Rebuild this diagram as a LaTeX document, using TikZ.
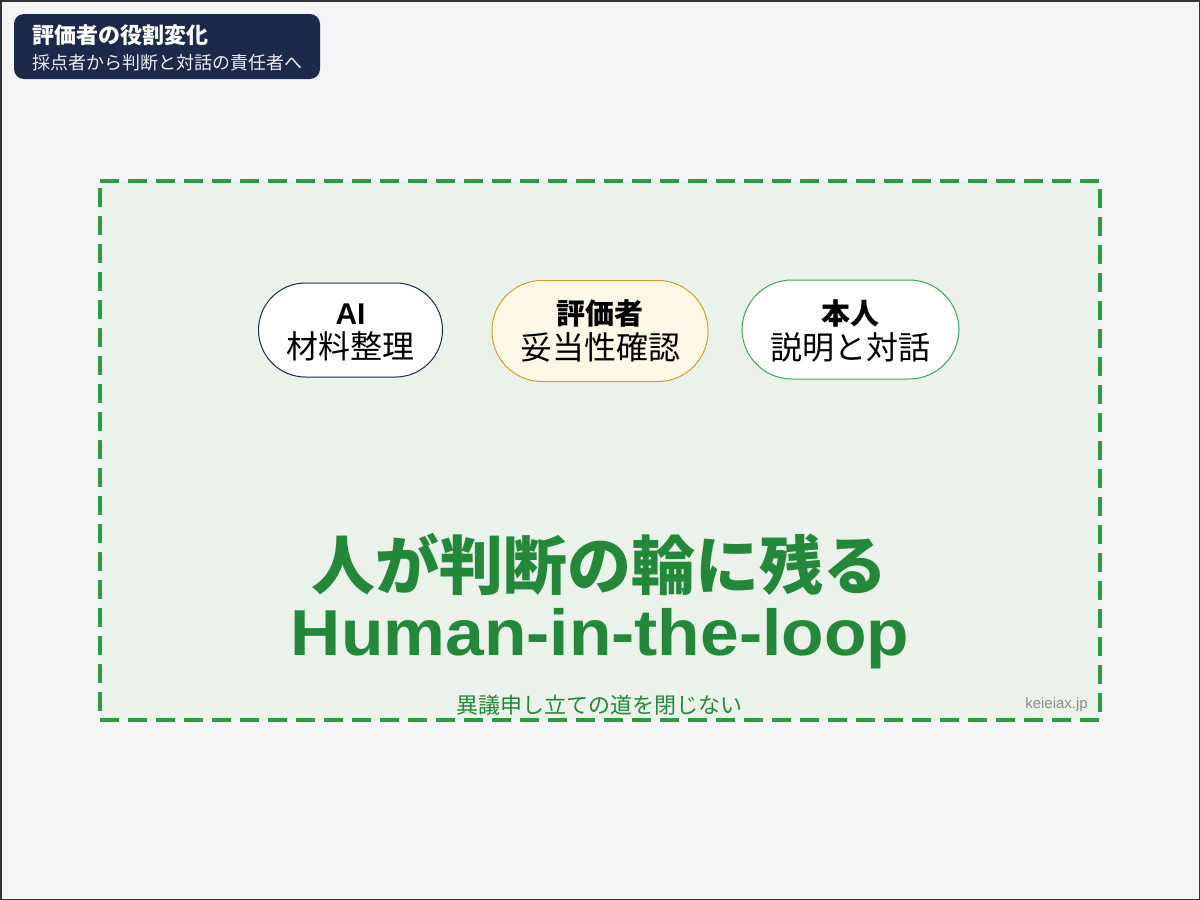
\documentclass[tikz,border=0pt]{standalone}
\usepackage{fontspec}
\setmainfont{Liberation Sans}
\newfontfamily\jp{Noto Sans CJK JP}
\definecolor{bgc}{HTML}{F5F5F5}
\definecolor{navy}{HTML}{1B2A4A}
\definecolor{dgreen}{HTML}{2A9A45}
\definecolor{tgreen}{HTML}{23883A}
\definecolor{lgreen}{HTML}{EAF2EA}
\definecolor{cream}{HTML}{FDF8E6}
\definecolor{gold}{HTML}{C9A22E}
\definecolor{pgreen}{HTML}{3AA655}
\tikzset{
  pill/.style={draw, line width=1pt, rounded corners=#1, inner sep=0pt},
  lbl/.style={anchor=base, inner sep=0pt, text=black},
}
\begin{document}
\begin{tikzpicture}[x=1pt,y=-1pt]
\useasboundingbox (0,0) rectangle (1200,900);
\fill[bgc] (0,0) rectangle (1200,900);
\draw[black!80, line width=1.5pt] (0.75,0.75) rectangle (1199.25,899.25);
% title
\node[fill=navy, rounded corners=10pt, minimum width=306pt, minimum height=65pt, inner sep=0pt] (title) at (167,46.5) {};
\node[anchor=base west, inner sep=0pt, text=white, font=\jp\bfseries\fontsize{22}{24}\selectfont] (t1) at (32,43) {評価者の役割変化};
\node[anchor=base west, inner sep=0pt, text=white!92!navy, font=\jp\fontsize{18}{20}\selectfont] (t2) at (32,69) {採点者から判断と対話の責任者へ};
% dashed frame
\fill[lgreen] (100,181) rectangle (1100,720);
\draw[dgreen, line width=3.5pt, dash pattern=on 19pt off 9pt, line cap=butt]
  (100,181) -- (1100,181) -- (1100,720) -- (100,720) -- cycle;
% pills
\node[pill=47pt, draw=navy, fill=white, minimum width=184pt, minimum height=94pt] (ai) at (350.5,330) {};
\node[pill=50pt, draw=gold, fill=cream, minimum width=216pt, minimum height=101pt] (ev) at (600,331) {};
\node[pill=50pt, draw=pgreen, fill=white, minimum width=217pt, minimum height=99pt] (me) at (850.5,329.5) {};
\node[lbl, font=\bfseries\fontsize{30}{30}\selectfont] (ai1) at (350.5,324) {AI};
\node[lbl, font=\jp\fontsize{32}{32}\selectfont] (ai2) at (350.5,358) {材料整理};
\node[lbl, font=\jp\bfseries\fontsize{29}{29}\selectfont] (ev1) at (600,324) {評価者};
\node[lbl, font=\jp\fontsize{32}{32}\selectfont] (ev2) at (600,359) {妥当性確認};
\node[lbl, font=\jp\bfseries\fontsize{29}{29}\selectfont] (me1) at (850.5,324) {本人};
\node[lbl, font=\jp\fontsize{32}{32}\selectfont] (me2) at (850.5,359) {説明と対話};
% big text
\node[anchor=base, inner sep=0pt, text=tgreen, font=\jp\bfseries\fontsize{64}{64}\selectfont] (big1) at (599,589) {人が判断の輪に残る};
\node[anchor=base, inner sep=0pt, text=tgreen, font=\bfseries\fontsize{65}{65}\selectfont, xscale=1.07, transform shape] (big2) at (600,655) {Human-in-the-loop};
% bottom
\node[anchor=base, inner sep=0pt, text=tgreen, font=\jp\fontsize{22}{22}\selectfont] (note) at (599,713) {異議申し立ての道を閉じない};
\node[anchor=base east, inner sep=0pt, text=black!45, font=\fontsize{15}{15}\selectfont] (site) at (1088,708) {keieiax.jp};
\end{tikzpicture}
\end{document}
